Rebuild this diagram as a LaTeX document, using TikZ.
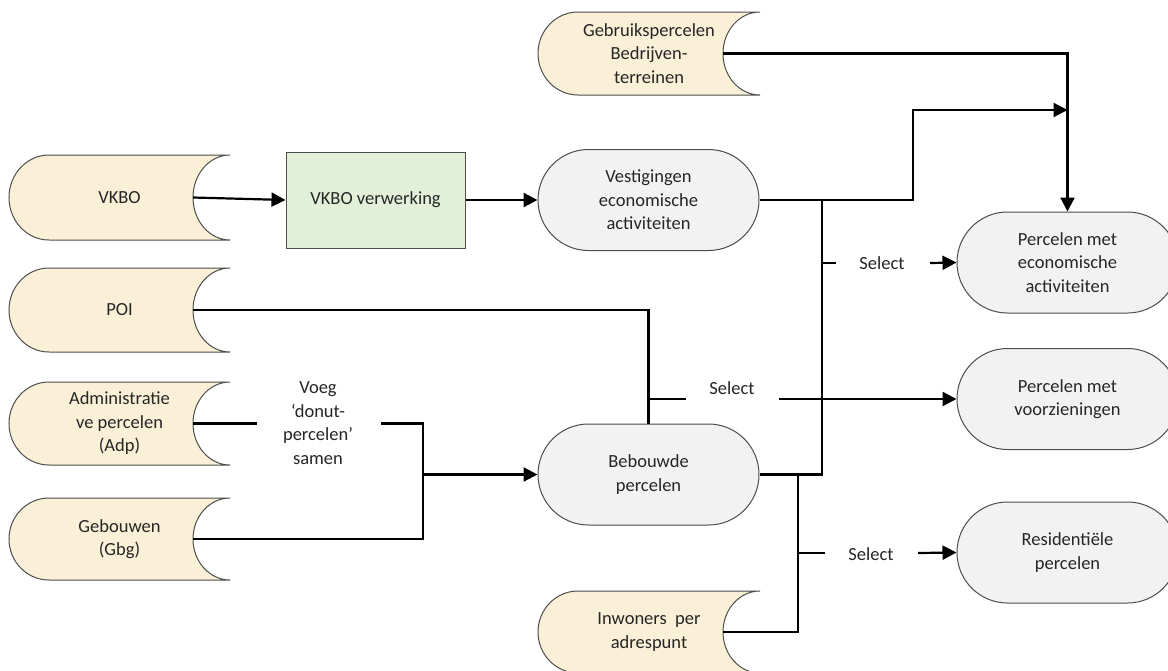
\documentclass[tikz,border=0pt]{standalone}
\usepackage{fontspec}
\setmainfont{Carlito}
\usetikzlibrary{arrows.meta,shapes.misc}
\definecolor{storefill}{HTML}{FAF0D7}
\definecolor{procfill}{HTML}{F2F2F2}
\definecolor{greenfill}{HTML}{E2F0D9}
\definecolor{bordercol}{HTML}{4D4D4D}
\definecolor{txtcol}{HTML}{262626}
\tikzset{
  txt/.style={align=center, font=\fontsize{18.5}{23.5}\selectfont, text=txtcol, inner sep=0pt},
  storeshape/.style={fill=storefill, draw=bordercol, line width=1pt},
  proc/.style={rounded rectangle, draw=bordercol, fill=procfill, line width=1pt,
    minimum width=221pt, minimum height=101pt, inner sep=0pt, txt},
  procbox/.style={rectangle, draw=bordercol, fill=greenfill, line width=1pt,
    minimum width=179pt, minimum height=96pt, inner sep=0pt, txt},
  conn/.style={line width=2.2pt, black},
  arr/.style={conn, -{Triangle[length=14pt,width=14pt]}}
}
% name, x1, x2, ytop, ybottom, text
\newcommand\storeddata[6]{%
  \pgfmathsetmacro\sdH{(#5-#4)/2}%
  \pgfmathsetmacro\sdY{(#5+#4)/2}%
  \pgfmathsetmacro\sdX{(#2+#3)/2}%
  \path[storeshape] ({#2+40},#4) arc[start angle=90,end angle=270,x radius=40pt,y radius=\sdH pt]
     -- (#3,#5) arc[start angle=270,end angle=90,x radius=37pt,y radius=\sdH pt] -- cycle;
  \node[txt] (#1) at (\sdX,\sdY) {#6};
  \coordinate (#1-out) at ({#3-37},\sdY);
}
\begin{document}
\begin{tikzpicture}[x=1pt,y=-1pt]
\useasboundingbox (0,0) rectangle (1168,670);
\clip (0,0) rectangle (1168,670);
\fill[white] (0,0) rectangle (1168,670);

% stored data
\storeddata{vkbo}{9}{230}{155}{240}{VKBO}
\storeddata{poi}{9}{230}{268}{352}{POI}
\storeddata{adp}{9}{230}{382}{465}{Administratie\\ve percelen\\(Adp)}
\storeddata{gbg}{9}{230}{498}{580}{Gebouwen\\(Gbg)}
\storeddata{gebr}{538}{760}{12}{95}{Gebruikspercelen\\Bedrijven-\\terreinen}
\storeddata{inw}{538}{760}{591}{673}{Inwoners\ \ per\\adrespunt}

% processes
\node[procbox] (verw) at (375.5,200) {VKBO verwerking};
\node[proc] (vest) at (648.5,200) {Vestigingen\\economische\\activiteiten};
\node[proc] (beb) at (648.5,474.5) {Bebouwde\\percelen};
\node[proc] (pec) at (1067.5,262.5) {Percelen met\\economische\\activiteiten};
\node[proc] (pvz) at (1067.5,399) {Percelen met\\voorzieningen};
\node[proc] (res) at (1067.5,552.5) {Residentiële\\percelen};

% labels
\node[txt] (sel1) at (882,263) {Select};
\node[txt] (sel2) at (732,388) {Select};
\node[txt] (sel3) at (871,554) {Select};
\node[txt] (voeg) at (318,423) {Voeg\\‘donut-\\percelen’\\samen};

% helper coordinates
\coordinate (vx) at (913,200);
\coordinate (m1) at (1067.5,110);
\coordinate (b1) at (822,200);
\coordinate (s1a) at (822,263);
\coordinate (s1b) at (836,263);
\coordinate (s1c) at (930,263);
\coordinate (j2) at (648.5,399);
\coordinate (s2b) at (686,399);
\coordinate (s2c) at (779,399);
\coordinate (b2) at (798,474.5);
\coordinate (s3a) at (798,553);
\coordinate (s3b) at (825,553);
\coordinate (s3c) at (918,553);
\coordinate (va) at (257,423.5);
\coordinate (vb) at (381,423.5);
\coordinate (vc) at (423,423.5);
\coordinate (vd) at (423,474.5);

% connectors
\draw[arr] (vkbo-out) -- (verw.west);
\draw[arr] (verw.east) -- (vest.west);
\draw[arr] (vest.east) -- (vx) |- (m1);
\draw[arr] (gebr-out) -| (pec.north);
\draw[conn] (beb.east) -| (b1);
\draw[conn] (s1a) -- (s1b);
\draw[arr] (s1c) -- (pec.west);
\draw[conn] (poi-out) -| (j2);
\draw[conn] (beb.north) -- (j2) -- (s2b);
\draw[arr] (s2c) -- (pvz.west);
\draw[conn] (inw-out) -| (b2);
\draw[conn] (s3a) -- (s3b);
\draw[arr] (s3c) -- (res.west);
\draw[conn] (adp-out) -- (va);
\draw[conn] (gbg-out) -| (vc) -- (vb);
\draw[arr] (vd) -- (beb.west);
\end{tikzpicture}
\end{document}
